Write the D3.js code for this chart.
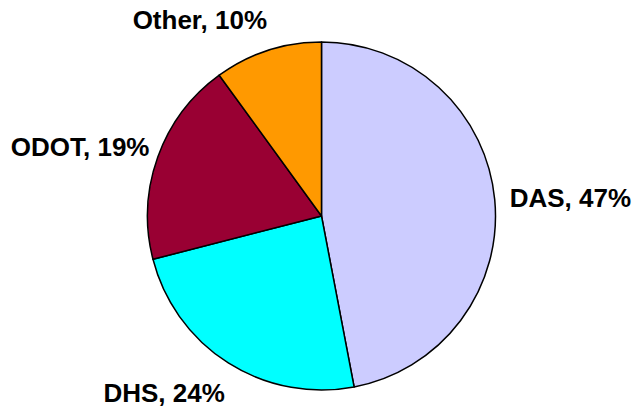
<!DOCTYPE html>
<html>
<head>
<meta charset="utf-8">
<script src="https://cdn.jsdelivr.net/npm/d3@7"></script>
<style>
  html, body { margin: 0; padding: 0; background: #ffffff; }
  svg { display: block; }
</style>
</head>
<body>
<svg id="chart" width="633" height="410"></svg>
<script>
// Data
const categories = ["DAS", "DHS", "ODOT", "Other"]
const shares = [47, 24, 19, 10]
const sliceColors = ["#CCCCFF", "#00FFFF", "#990033", "#FF9900"]

const width = 633
const height = 410
const centerX = 321.5
const centerY = 216
const radius = 174

const svg = d3.select("#chart")

const data = categories.map((c, i) => ({ label: c, value: shares[i] }))

const pie = d3.pie()
  .value(d => d.value)
  .sort(null)

const arc = d3.arc()
  .innerRadius(0)
  .outerRadius(radius)

const pieData = pie(data)

const pieGroup = svg.append("g")
  .attr("transform", `translate(${centerX}, ${centerY})`)

pieGroup.selectAll(".arc")
  .data(pieData)
  .enter()
  .append("path")
  .attr("class", "arc")
  .attr("d", arc)
  .attr("fill", (d, i) => sliceColors[i])
  .attr("stroke", "#000000")
  .attr("stroke-width", 1.5)
  .attr("stroke-linejoin", "round")

// Labels sit outside the pie, anchored towards the slice
const labelRx = 186
const labelRy = 208
const midAngle = d => (d.startAngle + d.endAngle) / 2

const labelGroup = svg.append("g")
  .attr("transform", `translate(${centerX + 3}, ${centerY})`)

labelGroup.selectAll(".label")
  .data(pieData)
  .enter()
  .append("text")
  .attr("class", "label")
  .attr("x", d => labelRx * Math.sin(midAngle(d)))
  .attr("y", d => -labelRy * Math.cos(midAngle(d)))
  .attr("dy", "0.4em")
  .attr("text-anchor", d => Math.sin(midAngle(d)) >= 0 ? "start" : "end")
  .attr("font-family", "'Liberation Sans', Arial, sans-serif")
  .attr("font-weight", "bold")
  .attr("font-size", "26px")
  .attr("fill", "#000000")
  .text(d => `${d.data.label}, ${d.data.value}%`)
</script>
</body>
</html>
